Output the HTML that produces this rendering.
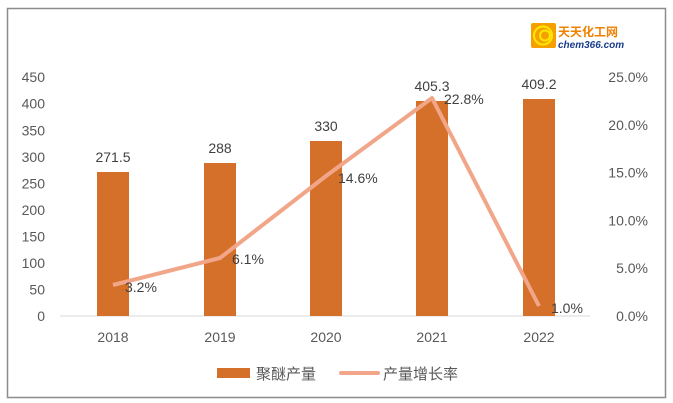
<!DOCTYPE html>
<html><head><meta charset="utf-8"><style>
body{margin:0;background:#fff;}
svg{display:block;font-family:"Liberation Sans","Noto Sans CJK SC",sans-serif;}
</style></head><body>
<svg width="673" height="403" viewBox="0 0 673 403">
<rect x="7.5" y="8.5" width="658" height="389" fill="#fff" stroke="#8c8c8c" stroke-width="1.5"/>
<line x1="60" y1="316" x2="590" y2="316" stroke="#d9d9d9"/>
<g fill="#595959" font-size="14" text-anchor="end">
<text x="45" y="321">0</text><text x="45" y="294.5">50</text><text x="45" y="268">100</text>
<text x="45" y="241.5">150</text><text x="45" y="215">200</text><text x="45" y="188.4">250</text>
<text x="45" y="161.8">300</text><text x="45" y="135.3">350</text><text x="45" y="108.7">400</text>
<text x="45" y="82">450</text>
</g>
<g fill="#595959" font-size="14" text-anchor="end">
<text x="648" y="321">0.0%</text><text x="648" y="273">5.0%</text><text x="648" y="225.4">10.0%</text>
<text x="648" y="177.6">15.0%</text><text x="648" y="129.8">20.0%</text><text x="648" y="82">25.0%</text>
</g>
<g fill="#d4702a">
<rect x="97" y="172" width="32" height="144"/>
<rect x="204" y="163" width="32" height="153"/>
<rect x="310" y="141" width="32" height="175"/>
<rect x="416" y="101" width="32" height="215"/>
<rect x="523" y="99" width="32" height="217"/>
</g>
<g fill="#404040" font-size="14" text-anchor="middle">
<text x="113" y="162">271.5</text><text x="220" y="153">288</text><text x="326" y="131">330</text>
<text x="432" y="91">405.3</text><text x="539" y="89">409.2</text>
</g>
<polyline points="113,285 220,258 326,176 432,98 539,306" fill="none" stroke="#f2a689" stroke-width="4" stroke-linejoin="round"/>
<g fill="#404040" font-size="14">
<text x="125" y="292">3.2%</text><text x="232" y="264">6.1%</text><text x="338" y="183">14.6%</text>
<text x="444" y="104">22.8%</text><text x="551" y="313">1.0%</text>
</g>
<g fill="#595959" font-size="14" text-anchor="middle">
<text x="113" y="342">2018</text><text x="220" y="342">2019</text><text x="326" y="342">2020</text>
<text x="432" y="342">2021</text><text x="539" y="342">2022</text>
</g>
<rect x="217" y="368" width="33" height="10" fill="#d4702a"/>
<text x="256" y="379" fill="#595959" font-size="15">聚醚产量</text>
<line x1="341" y1="373" x2="378" y2="373" stroke="#f2a689" stroke-width="4" stroke-linecap="round"/>
<text x="383" y="379" fill="#595959" font-size="15">产量增长率</text>
<rect x="531" y="23" width="25" height="25" rx="2" fill="#f5a000"/>
<circle cx="543" cy="35.5" r="9" fill="none" stroke="#ffe800" stroke-width="2"/>
<circle cx="545" cy="35.5" r="5" fill="none" stroke="#ffe800" stroke-width="2"/>
<text x="558" y="36" fill="#f08000" font-size="12" font-weight="bold">天天化工网</text>
<text x="558" y="48" fill="#1a3c8c" font-size="10" font-weight="bold" font-style="italic">chem366.com</text>
</svg>
</body></html>
